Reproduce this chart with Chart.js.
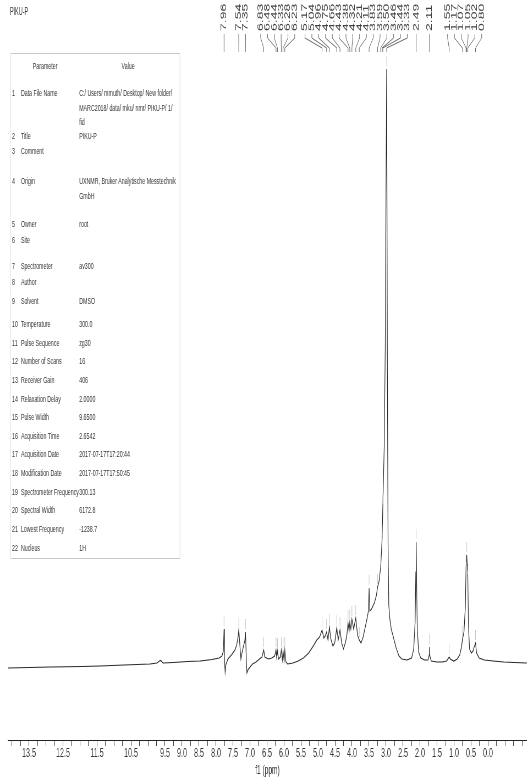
<!DOCTYPE html>
<html>
<head>
<meta charset="utf-8">
<title>PIKU-P 1H NMR</title>
<script src="https://cdn.jsdelivr.net/npm/chart.js@4.4.1/dist/chart.umd.min.js"></script>
<style>
  html, body { margin: 0; padding: 0; background: #fff; overflow: hidden; }
  /* the whole sheet is laid out wide and squeezed horizontally */
  #sheet { position: absolute; left: 0; top: 0; width: 958px; height: 781px;
           transform: scaleX(0.55); transform-origin: 0 0; }
  #spec { position: absolute; left: 0; top: 0; }
  #title { position: absolute; left: 18px; top: 6px; font: 10px "Liberation Sans", Arial, sans-serif; color: #333; }
  #params { position: absolute; left: 19px; top: 53px; width: 307px; height: 504px;
            border: 1px solid #c9c9c9; font: 9.6px "Liberation Sans", Arial, sans-serif; color: #333; }
  #params div { position: absolute; white-space: pre; line-height: 14.5px; }
</style>
</head>
<body>
<div id="sheet">
  <canvas id="spec" width="958" height="781"></canvas>
  <div id="title">PIKU-P</div>
  <div id="params"></div>
</div>
<script>
// 1H spectrum trace, ppm vs intensity (arbitrary units, baseline = 0)
const ppm = [14.11, 13.5, 12.9, 12.0, 11.5, 10.8, 10.07, 9.87, 9.80, 9.76, 9.70, 9.40, 9.0, 8.64, 8.30, 8.10, 8.02, 7.98,
  7.96, 7.95, 7.93, 7.91, 7.85, 7.75, 7.65, 7.60, 7.56, 7.54, 7.51, 7.48, 7.45, 7.40, 7.37, 7.35, 7.33, 7.31, 7.28,
  7.22, 7.15, 7.05, 6.95, 6.88, 6.83, 6.80, 6.70, 6.60, 6.52, 6.48, 6.46, 6.44, 6.41, 6.36, 6.33, 6.30, 6.28, 6.25,
  6.23, 6.20, 6.15, 6.00, 5.85, 5.70, 5.55, 5.42, 5.32, 5.24, 5.17, 5.12, 5.08, 5.04, 5.00, 4.96, 4.92, 4.86, 4.81,
  4.75, 4.71, 4.66, 4.61, 4.56, 4.50, 4.46, 4.43, 4.40, 4.38, 4.35, 4.32, 4.27, 4.21, 4.16, 4.11, 4.06, 4.00, 3.94,
  3.88, 3.85, 3.83, 3.81, 3.76, 3.68, 3.62, 3.59, 3.55, 3.50, 3.46, 3.44, 3.40, 3.37, 3.35, 3.33, 3.31, 3.29, 3.27,
  3.24, 3.20, 3.14, 3.06, 2.98, 2.90, 2.75, 2.62, 2.56, 2.52, 2.50, 2.49, 2.48, 2.46, 2.42, 2.36, 2.25, 2.15, 2.12,
  2.11, 2.10, 2.06, 1.90, 1.75, 1.62, 1.57, 1.55, 1.52, 1.42, 1.32, 1.25, 1.20, 1.17, 1.13, 1.09, 1.07, 1.05, 1.02,
  1.00, 0.97, 0.92, 0.87, 0.83, 0.80, 0.77, 0.70, 0.55, 0.30, 0.00, -0.30, -0.66];
const intensity = [-1, -0.5, 0, 0.5, 1, 2, 3, 4, 6, 6.5, 4, 4.5, 5.5, 6, 7.5, 9, 11, 16,
  38, 10, -5, 2, 8, 12, 17, 22, 30, 37, 22, 8, 14, 22, 26, 35, 12, -6, -3,
  0, 3, 5, 8, 10, 17, 10, 8, 9, 11, 17, 9, 16, 8, 10, 17, 7, 16, 6,
  17, 5, 3, 4, 6, 9, 14, 21, 27, 30, 37, 29, 31, 35, 27, 40, 28, 21, 24,
  39, 27, 37, 24, 18, 25, 33, 44, 36, 45, 38, 48, 38, 49, 32, 27, 24, 30, 40,
  50, 56, 79, 56, 58, 64, 72, 80, 85, 100, 128, 160, 220, 320, 470, 598, 300, 120, 62,
  48, 38, 30, 19, 11, 8, 7, 9, 18, 45, 95, 125, 90, 40, 15, 9, 7, 7, 12,
  20, 11, 6, 5, 5, 6, 9, 10, 8, 6, 8, 12, 20, 28, 35, 60, 100, 112, 90,
  40, 18, 14, 16, 21, 24, 14, 9, 7, 6, 5, 4.5, 4];

// picked peaks (ppm)
const peaks = [7.96, 7.54, 7.35, 6.83, 6.48, 6.44, 6.33, 6.28, 6.23,
  5.17, 5.04, 4.96, 4.75, 4.66, 4.43, 4.38, 4.32, 4.21, 4.11, 3.83, 3.59, 3.50, 3.46, 3.44, 3.33,
  2.49, 2.11, 1.55, 1.17, 1.07, 1.05, 1.02, 0.80];

// labelled ticks on the f1 axis
const tickLabels = ['13.5', '12.5', '11.5', '10.5', '9.5', '9.0', '8.5', '8.0', '7.5', '7.0', '6.5', '6.0',
  '5.5', '5.0', '4.5', '4.0', '3.5', '3.0', '2.5', '2.0', '1.5', '1.0', '0.5', '0.0'];

// acquisition parameters
const paramNames = ['Data File Name', 'Title', 'Comment', 'Origin', 'Owner', 'Site', 'Spectrometer', 'Author',
  'Solvent', 'Temperature', 'Pulse Sequence', 'Number of Scans', 'Receiver Gain', 'Relaxation Delay',
  'Pulse Width', 'Acquisition Time', 'Acquisition Date', 'Modification Date', 'Spectrometer Frequency',
  'Spectral Width', 'Lowest Frequency', 'Nucleus'];
const paramValues = ['C:/ Users/ mmuth/ Desktop/ New folder/\nMARC2018/ data/ mku/ nmr/ PIKU-P/ 1/\nfid',
  'PIKU-P', '', 'UXNMR, Bruker Analytische Messtechnik\nGmbH', 'root', '', 'av300', '',
  'DMSO', '300.0', 'zg30', '16', '406', '2.0000', '9.6500', '2.6542', '2017-07-17T17:20:44',
  '2017-07-17T17:50:45', '300.13', '6172.8', '-1238.7', '1H'];

// table layout: text centre of each row (page y)
const rowCentres = [92, 135, 150, 180, 223, 239, 265, 281, 300, 323, 342, 360, 379, 398, 416, 435,
  453, 472, 491, 509, 528, 547];

function buildTable() {
  const box = document.getElementById('params');
  const add = (txt, left, top, center) => {
    const d = document.createElement('div');
    d.textContent = txt;
    d.style.top = top + 'px';
    if (center) { d.style.left = (left - 60) + 'px'; d.style.width = '120px'; d.style.textAlign = 'center'; }
    else d.style.left = left + 'px';
    box.appendChild(d);
  };
  add('Parameter', 62, 65 - 7 - 53, true);
  add('Value', 213, 65 - 7 - 53, true);
  paramNames.forEach((name, i) => {
    const top = rowCentres[i] - 7 - 53;
    add(String(i + 1), 2, top);
    add(name, 18, top);
    if (paramValues[i]) add(paramValues[i], 124, top);
  });
}
buildTable();

// spread label columns so they don't overlap, keeping each group centred on its peaks
function spreadLabels(xs, gap) {
  const groups = [];
  xs.forEach(v => {
    groups.push({ n: 1, mean: v });
    while (groups.length > 1) {
      const b = groups[groups.length - 1], a = groups[groups.length - 2];
      const aEnd = a.mean + (a.n - 1) * gap / 2;
      const bStart = b.mean - (b.n - 1) * gap / 2;
      if (bStart - aEnd >= gap) break;
      const n = a.n + b.n;
      a.mean = (a.mean * a.n + b.mean * b.n) / n;
      a.n = n;
      groups.pop();
    }
  });
  const out = [];
  groups.forEach(g => {
    for (let k = 0; k < g.n; k++) out.push(g.mean + (k - (g.n - 1) / 2) * gap);
  });
  return out;
}

const peakLabels = {
  id: 'peakLabels',
  afterDatasetsDraw(chart) {
    const { ctx, scales: { x, y } } = chart;
    const px = peaks.map(p => x.getPixelForValue(p));
    const lx = spreadLabels(px, 12.4);
    ctx.save();
    ctx.font = '14px "Liberation Sans", Arial, sans-serif';
    ctx.fillStyle = '#444';
    ctx.textBaseline = 'middle';
    ctx.textAlign = 'left';
    peaks.forEach((p, i) => {
      ctx.save();
      ctx.translate(lx[i], 31);
      ctx.rotate(-Math.PI / 2);
      ctx.fillText(p.toFixed(2), 0, 0);
      ctx.restore();

      ctx.strokeStyle = '#666';
      ctx.lineWidth = 1;
      ctx.beginPath();
      ctx.moveTo(lx[i], 34);
      ctx.lineTo(lx[i], 38);
      ctx.lineTo(px[i], 48);
      ctx.lineTo(px[i], 52);
      ctx.stroke();

      // small marker just above the peak top
      const top = y.getPixelForValue(intensity[ppm.indexOf(p)]);
      ctx.strokeStyle = '#c4c4c4';
      ctx.beginPath();
      ctx.moveTo(px[i], top - 3);
      ctx.lineTo(px[i], Math.max(top - 13, 54));
      ctx.stroke();
    });
    ctx.restore();
  }
};

const ctx = document.getElementById('spec').getContext('2d');
new Chart(ctx, {
  type: 'line',
  data: {
    datasets: [{
      data: ppm.map((p, i) => ({ x: p, y: intensity[i] })),
      borderColor: '#2a2a2a',
      borderWidth: 1.2,
      pointRadius: 0,
      tension: 0,
      xAxisID: 'x',
      yAxisID: 'y'
    }]
  },
  options: {
    responsive: false,
    animation: false,
    devicePixelRatio: 1,
    layout: { padding: { left: 14.5, right: 0, top: 65, bottom: 3 } },
    plugins: { legend: { display: false }, tooltip: { enabled: false } },
    scales: {
      x: { type: 'linear', display: false, reverse: true, min: -0.663, max: 14.112 },
      y: { type: 'linear', display: false, min: -73, max: 602 },
      xa: {
        type: 'linear', axis: 'x', position: 'bottom', reverse: true, min: -1.144, max: 14.118,
        grid: { drawOnChartArea: false, tickLength: 6, tickColor: '#444' },
        border: { display: true, color: '#222', width: 1 },
        ticks: {
          stepSize: 0.25, includeBounds: false, autoSkip: false, maxRotation: 0, padding: 0,
          color: '#333', font: { family: '"Liberation Sans", Arial, sans-serif', size: 13 },
          callback: v => {
            const s = v.toFixed(1);
            return Math.abs(v * 2 - Math.round(v * 2)) < 1e-6 && tickLabels.includes(s) ? s : '';
          }
        },
        title: { display: true, text: 'f1 (ppm)', color: '#333', padding: { top: 2, bottom: 0 },
                 font: { family: '"Liberation Sans", Arial, sans-serif', size: 12 } }
      }
    }
  },
  plugins: [peakLabels]
});
</script>
</body>
</html>
